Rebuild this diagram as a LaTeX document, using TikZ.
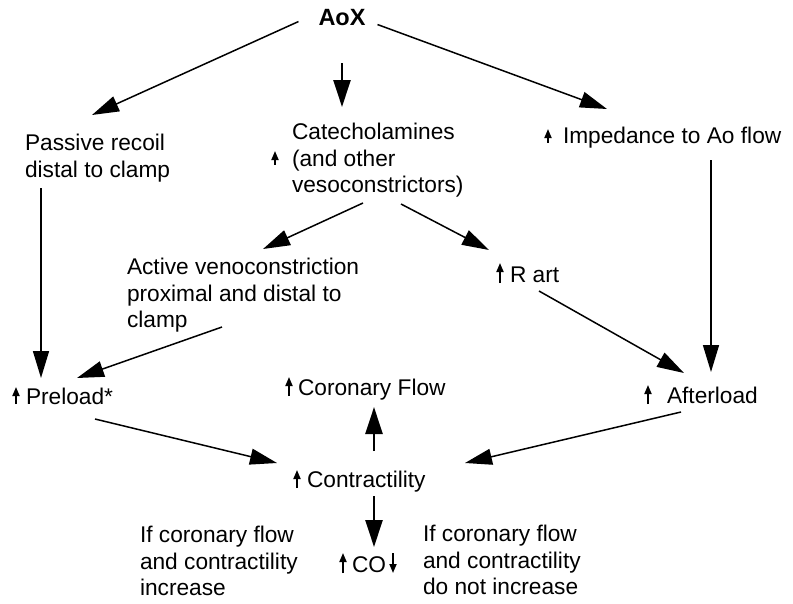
\documentclass[tikz,border=0pt]{standalone}
\usepackage{fontspec}
\setmainfont{Liberation Sans}
\usetikzlibrary{arrows.meta}
\begin{document}
\begin{tikzpicture}[x=1pt,y=-1pt,
  txt/.style={inner sep=0pt, outer sep=0pt, font=\fontsize{22.7}{26.5}\selectfont},
  blk/.style={txt, align=left, anchor=north west},
  one/.style={txt, anchor=base west},
  arr/.style={line width=1.5pt, -{Triangle[length=27pt,width=16pt]}},
  thk/.style={line width=2.7pt, -{Triangle[length=27pt,width=17pt]}},
  upa/.style={line width=1.7pt, -{Triangle[length=9pt,width=7pt]}}]
\useasboundingbox (0,0) rectangle (793,603);

% nodes
\node[txt, anchor=base, font=\fontsize{23.5}{27}\selectfont\bfseries] (aox) at (342,25) {AoX};
\node[blk] (pas) at (25,134.5) {Passive recoil\\distal to clamp};
\node[blk] (cat) at (292,123.5) {Catecholamines\\(and other\\vesoconstrictors)};
\node[one] (imp) at (563,143) {Impedance to Ao flow};
\node[blk] (act) at (127,258.5) {Active venoconstriction\\proximal and distal to\\clamp};
\node[one] (rart) at (510,282) {R art};
\node[one] (pre) at (26,404) {Preload*};
\node[one] (aft) at (667,403) {Afterload};
\node[one] (cor) at (298,395) {Coronary Flow};
\node[one] (con) at (307,487) {Contractility};
\node[one] (co) at (352,572) {CO};
\node[blk] (ifl) at (140,526.5) {If coronary flow\\and contractility\\increase};
\node[blk] (ifr) at (423,525.5) {If coronary flow\\and contractility\\do not increase};

% small up/down arrows
\draw[upa] ([shift={(-17,41)}]cat.north west) -- ([shift={(-17,27.5)}]cat.north west);
\draw[upa] ([shift={(-15,-0.5)}]imp.base west) -- ([shift={(-15,-14)}]imp.base west);
\draw[upa] ([shift={(-10,1)}]rart.base west) -- ([shift={(-10,-19)}]rart.base west);
\draw[upa] ([shift={(-10,0)}]pre.base west) -- ([shift={(-10,-17)}]pre.base west);
\draw[upa] ([shift={(-19,1)}]aft.base west) -- ([shift={(-19,-18)}]aft.base west);
\draw[upa] ([shift={(-9,1)}]cor.base west) -- ([shift={(-9,-18)}]cor.base west);
\draw[upa] ([shift={(-10,1)}]con.base west) -- ([shift={(-10,-17)}]con.base west);
\draw[upa] ([shift={(-9,1)}]co.base west) -- ([shift={(-9,-19)}]co.base west);
\draw[upa] ([shift={(41,-19)}]co.base west) -- ([shift={(41,1)}]co.base west);

% connectors
\draw[arr] ([shift={(-20,4.5)}]aox.west) -- ([shift={(67,-19.5)}]pas.north west);
\draw[thk] ([shift={(0,38)}]aox.south) -- ([shift={(50,-16.5)}]cat.north west);
\draw[arr] ([shift={(12,7.5)}]aox.east) -- ([shift={(44,-34)}]imp.base west);
\draw[arr] ([shift={(148,17)}]imp.base west) -- ([shift={(44,-31)}]aft.base west);
\draw[arr] ([shift={(16,53.5)}]pas.north west) -- ([shift={(15,-26)}]pre.base west);
\draw[arr] ([shift={(71,79.5)}]cat.north west) -- ([shift={(136,-9.5)}]act.north west);
\draw[arr] ([shift={(109,80.5)}]cat.north west) -- ([shift={(-21,-32)}]rart.base west);
\draw[arr] ([shift={(95,68.5)}]act.north west) -- ([shift={(51,-26)}]pre.base west);
\draw[arr] ([shift={(29,9)}]rart.base west) -- ([shift={(17,-30)}]aft.base west);
\draw[arr] ([shift={(69,15)}]pre.base west) -- ([shift={(-30,-24)}]con.base west);
\draw[arr] ([shift={(14,9)}]aft.base west) -- ([shift={(158,-24)}]con.base west);
\draw[thk] ([shift={(67,-36)}]con.base west) -- ([shift={(76,12)}]cor.base west);
\draw[thk] ([shift={(67,9)}]con.base west) -- ([shift={(22,-25)}]co.base west);
\end{tikzpicture}
\end{document}
